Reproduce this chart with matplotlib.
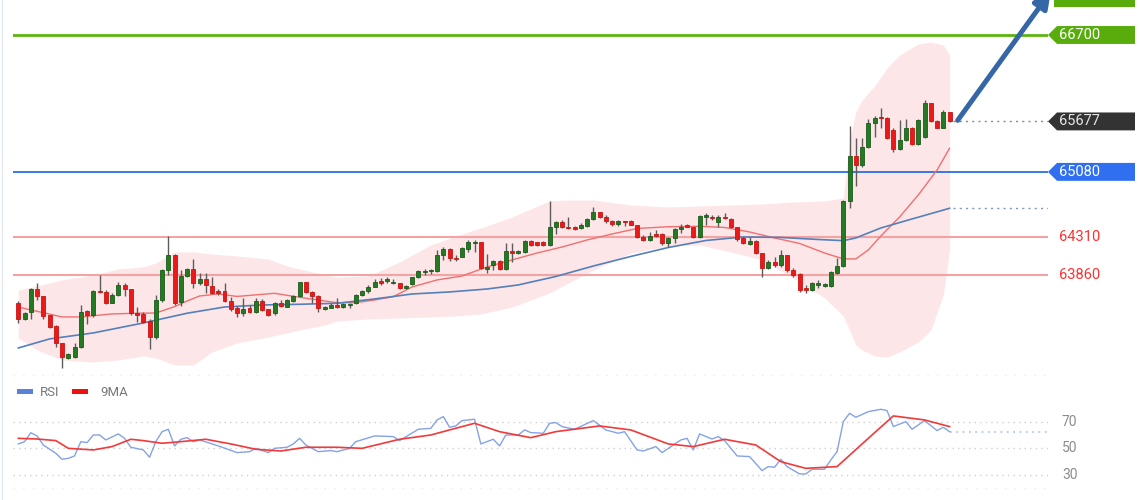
import matplotlib
matplotlib.use("Agg")
import matplotlib.pyplot as plt
import matplotlib.transforms as mtransforms
from matplotlib.patches import Polygon, Rectangle

plt.rcParams["font.family"] = ["Roboto", "DejaVu Sans"]

# --- candle data (price) ---
opens = [
    63532, 63335, 63426, 63691, 63611, 63387, 63256, 63052, 62881, 62893,
    63004, 63434, 63387, 63674, 63663, 63532, 63623, 63742, 63691, 63414,
    63399, 63319, 63122, 63564, 63919, 64097, 63544, 63852, 63931, 63762,
    63809, 63730, 63671, 63671, 63556, 63466, 63407, 63466, 63426, 63556,
    63454, 63407, 63532, 63485, 63556, 63611, 63774, 63662, 63611, 63454,
    63473, 63505, 63478, 63505, 63525, 63623, 63674, 63721, 63789, 63789,
    63762, 63762, 63703, 63753, 63833, 63896, 63905, 63911, 64097, 64164,
    64065, 64077, 64164, 64235, 64247, 63927, 63978, 64026, 63931, 64144,
    64117, 64136, 64266, 64247, 64254, 64215, 64431, 64491, 64431, 64424,
    64412, 64440, 64523, 64609, 64550, 64503, 64464, 64503, 64503, 64452,
    64313, 64274, 64341, 64341, 64235, 64301, 64401, 64452, 64424, 64306,
    64550, 64550, 64491, 64550, 64519, 64424, 64294, 64227, 64266, 64124,
    63939, 64017, 63978, 64097, 63919, 63868, 63710, 63682, 63742, 63734,
    63734, 63880, 63970, 64736, 65272, 65162, 65378, 65655, 65733, 65721,
    65576, 65351, 65457, 65603, 65407, 65496, 65892, 65682, 65603, 65792,
]
highs = [
    63556, 63426, 63703, 63762, 63611, 63387, 63268, 63060, 62937, 63052,
    63505, 63446, 63680, 63860, 63682, 63647, 63781, 63769, 63695, 63481,
    63426, 63335, 63623, 63927, 64321, 64105, 63919, 63943, 64046, 63880,
    63880, 63840, 63695, 63769, 63603, 63493, 63584, 63505, 63584, 63572,
    63454, 63544, 63564, 63572, 63623, 63781, 63781, 63671, 63623, 63493,
    63525, 63584, 63525, 63525, 63631, 63682, 63742, 63809, 63821, 63840,
    63809, 63769, 63742, 63840, 63919, 63927, 63927, 64156, 64195, 64176,
    64097, 64188, 64274, 64274, 64254, 64109, 64038, 64038, 64235, 64235,
    64156, 64274, 64274, 64254, 64262, 64739, 64499, 64511, 64543, 64440,
    64479, 64535, 64661, 64609, 64570, 64511, 64511, 64503, 64511, 64452,
    64333, 64372, 64392, 64353, 64313, 64412, 64463, 64463, 64431, 64570,
    64590, 64570, 64570, 64590, 64531, 64431, 64306, 64306, 64274, 64124,
    64038, 64077, 64156, 64097, 63939, 63880, 63742, 63774, 63801, 63762,
    63904, 64057, 64747, 65627, 65477, 65477, 65706, 65745, 65840, 65733,
    65596, 65694, 65706, 65615, 65706, 65931, 65892, 65694, 65812, 65792,
]
lows = [
    63288, 63327, 63335, 63564, 63335, 63229, 63012, 62756, 62866, 62874,
    62992, 63280, 63359, 63650, 63517, 63523, 63611, 63611, 63387, 63307,
    63295, 62981, 63099, 63544, 63860, 63505, 63493, 63836, 63703, 63742,
    63643, 63635, 63623, 63544, 63438, 63367, 63375, 63414, 63414, 63434,
    63375, 63387, 63478, 63478, 63544, 63603, 63643, 63529, 63426, 63446,
    63466, 63466, 63466, 63466, 63517, 63611, 63650, 63714, 63742, 63762,
    63754, 63691, 63691, 63742, 63825, 63860, 63870, 63899, 64038, 64029,
    64029, 64069, 64136, 64136, 63927, 63887, 63919, 63919, 63919, 64017,
    64109, 64124, 64203, 64203, 64203, 64203, 64345, 64412, 64400, 64392,
    64400, 64428, 64511, 64531, 64479, 64440, 64440, 64440, 64446, 64294,
    64266, 64266, 64313, 64215, 64195, 64235, 64353, 64424, 64294, 64294,
    64452, 64511, 64431, 64519, 64412, 64266, 64227, 64215, 64109, 63833,
    63931, 63958, 63958, 63899, 63840, 63663, 63643, 63671, 63710, 63722,
    63722, 63868, 63958, 64649, 64917, 65142, 65366, 65496, 65596, 65466,
    65319, 65339, 65446, 65398, 65398, 65485, 65674, 65596, 65596, 65667,
]
closes = [
    63335, 63414, 63691, 63611, 63375, 63248, 63052, 62893, 62925, 63004,
    63426, 63387, 63674, 63659, 63532, 63623, 63742, 63691, 63407, 63387,
    63307, 63122, 63564, 63919, 64097, 63532, 63848, 63931, 63762, 63809,
    63742, 63643, 63643, 63556, 63454, 63407, 63454, 63426, 63556, 63446,
    63387, 63532, 63493, 63564, 63611, 63774, 63662, 63615, 63466, 63485,
    63505, 63478, 63517, 63517, 63623, 63674, 63721, 63774, 63762, 63809,
    63781, 63703, 63733, 63833, 63911, 63911, 63915, 64097, 64164, 64057,
    64046, 64176, 64247, 64247, 63939, 63951, 64026, 63931, 64144, 64117,
    64144, 64266, 64215, 64215, 64215, 64431, 64491, 64431, 64412, 64400,
    64452, 64523, 64609, 64550, 64503, 64460, 64503, 64487, 64452, 64306,
    64274, 64321, 64321, 64235, 64301, 64401, 64431, 64431, 64306, 64562,
    64562, 64531, 64550, 64531, 64431, 64282, 64235, 64266, 64124, 63939,
    64017, 63978, 64097, 63919, 63860, 63682, 63682, 63762, 63762, 63750,
    63892, 63970, 64736, 65272, 65162, 65378, 65655, 65714, 65714, 65477,
    65351, 65457, 65596, 65407, 65694, 65892, 65682, 65603, 65792, 65677,
]

# --- overlays (candle index, price) ---
ma_fast_idx = [0, 2, 4, 7, 10, 15, 19, 22, 25, 27, 29, 32, 35, 41, 46, 51, 54, 57, 60, 63, 67, 71,
               75, 79, 83, 87, 91, 95, 99, 104, 109, 113, 117, 121, 125, 129, 132, 134, 136, 138,
               141, 144, 147, 149]
ma_fast = [63480, 63446, 63414, 63363, 63363, 63399, 63407, 63410, 63485, 63552, 63611, 63635,
           63606, 63643, 63584, 63532, 63532, 63564, 63603, 63718, 63801, 63848, 63955, 64038,
           64120, 64191, 64274, 64345, 64410, 64431, 64436, 64422, 64369, 64298, 64233, 64120,
           64050, 64050, 64156, 64321, 64546, 64807, 65102, 65359]

ma_slow_idx = [0, 5, 12, 20, 27, 33, 39, 45, 51, 57, 63, 69, 75, 80, 86, 92, 98, 104, 110, 116,
               122, 128, 132, 134, 138, 143, 149]
ma_slow = [62996, 63103, 63174, 63292, 63407, 63481, 63505, 63513, 63525, 63576, 63635, 63659,
           63694, 63742, 63842, 63966, 64079, 64185, 64268, 64310, 64304, 64280, 64266, 64298,
           64416, 64523, 64649]

band_idx = [0, 3, 7, 12, 16, 20, 22, 25, 28, 31, 35, 40, 43, 45, 49, 51, 56, 61, 66, 70, 74, 79,
            85, 88, 92, 98, 104, 109, 114, 119, 124, 129, 132, 133, 134, 135, 137, 139, 141, 144,
            146, 148, 149]
band_up = [63682, 63730, 63801, 63860, 63931, 63955, 64002, 64132, 64132, 64108, 64085, 64049,
           63966, 63931, 63860, 63836, 63848, 64014, 64215, 64321, 64416, 64546, 64736, 64747,
           64747, 64688, 64665, 64676, 64688, 64700, 64724, 64736, 64771, 65457, 65789, 65931,
           66096, 66309, 66463, 66593, 66617, 66581, 66463]
band_lo = [63114, 62972, 62854, 62830, 62854, 62901, 62878, 62795, 62795, 62949, 63055, 63126,
           63174, 63209, 63268, 63315, 63339, 63351, 63363, 63375, 63398, 63481, 63647, 63765,
           63919, 64120, 64203, 64215, 64132, 64038, 63824, 63588, 63375, 63209, 63032, 62972,
           62901, 62890, 62949, 63067, 63209, 63623, 64156]

# --- RSI panel ---
rsi_idx = [0, 1, 2, 3, 4, 6, 7, 8, 9, 10, 11, 12, 13, 14, 16, 17, 18, 20, 21, 22, 23, 24, 25, 26,
           27, 28, 29, 31, 32, 35, 37, 38, 40, 41, 43, 44, 45, 46, 48, 50, 51, 53, 54, 57, 60, 61,
           64, 66, 67, 68, 69, 70, 71, 73, 74, 76, 77, 78, 80, 81, 82, 84, 85, 86, 87, 89, 92, 94,
           96, 97, 99, 100, 102, 103, 106, 107, 108, 109, 111, 112, 113, 115, 117, 119, 120, 121,
           122, 123, 125, 126, 127, 129, 130, 131, 132, 133, 134, 136, 138, 139, 140, 142, 143,
           145, 147, 148, 149]
rsi_vals = [53.3, 55, 61.7, 59.3, 52.5, 46.3, 41.8, 42.5, 44.3, 55, 54.3, 60, 60, 56.3, 60.8, 57.5,
            50.8, 48.8, 43.3, 55, 62.5, 64.3, 51.8, 56.8, 58, 55, 56.3, 53.3, 51.8, 46.8, 47.5, 50,
            46.8, 50, 50.8, 53.3, 57.5, 52.5, 47.5, 48.3, 47.5, 50, 55, 59.3, 58.8, 55.8, 64.3, 65,
            71.3, 73.8, 65.8, 66.8, 70.8, 71.8, 53.3, 56.8, 51.8, 60, 60, 63.8, 61.8, 61.3, 68.8,
            69.3, 66.3, 64.3, 70.8, 63.8, 61.3, 62.5, 48.8, 48, 51.3, 46.8, 56.3, 57.5, 48.8, 60.8,
            57, 58.8, 55.8, 44.3, 43.8, 33.3, 36.3, 35.8, 41.8, 36.3, 30.8, 30.8, 34.3, 34.3, 41.3,
            47.5, 70, 76.3, 73.3, 77.5, 79.3, 78.3, 66.3, 70, 64.3, 70.8, 63.3, 65.8, 62.5]
rsi_ma_idx = [0, 3, 6, 8, 12, 15, 18, 20, 23, 26, 30, 34, 38, 42, 46, 51, 55, 61, 66, 69, 73, 77,
              82, 86, 93, 98, 104, 108, 113, 118, 122, 126, 131, 136, 140, 145, 149]
rsi_ma = [57.5, 57, 55.8, 50, 48.8, 51.3, 56.8, 55.8, 53.8, 55, 56.8, 53.3, 49.3, 48, 50.8, 50.8,
          50, 56.8, 60, 63.8, 68.8, 62.5, 58, 62.5, 66.8, 63.8, 53.3, 51.3, 56.8, 52.5, 40, 35,
          36.3, 57.5, 74.3, 71.3, 66.3]
rsi_levels = [70, 50, 30]

# price levels
level_green = 66700
level_blue = 65080
levels_red = [64310, 63860]
last_price = 65677

W, H = 1140, 500
fig = plt.figure(figsize=(W / 100, H / 100), dpi=100)
fig.patch.set_facecolor("white")

XL = (-0.85, 164.75)
ax = fig.add_axes([13 / W, 120 / H, 1035 / W, 380 / H])
ax.set_xlim(*XL)
ax.set_ylim(62617, 67114)
ax.set_axis_off()

# bollinger-like band
ax.fill_between(band_idx, band_lo, band_up, color="#fcdadd", alpha=0.65, lw=0, zorder=1)

# horizontal levels
ax.axhline(level_green, color="#5cb410", lw=2, zorder=2)
ax.axhline(level_blue, color="#1763e6", lw=1.2, zorder=2)
for lv in levels_red:
    ax.axhline(lv, color="#f3a3a3", lw=1.5, zorder=2)

# moving averages
ax.plot(ma_fast_idx, ma_fast, color="#f07070", lw=1, zorder=3)
ax.plot(ma_slow_idx, ma_slow, color="#5580bb", lw=1.2, zorder=3)
ax.hlines(ma_slow[-1], ma_slow_idx[-1] + 0.5, XL[1], colors="#7f95c4", lw=1,
          linestyles=(0, (1.5, 3)), zorder=3)

# candles
idx = list(range(len(opens)))
ax.vlines(idx, lows, highs, colors="#5c5c5c", lw=1, zorder=4)
bottoms = [min(o, c) for o, c in zip(opens, closes)]
heights = [max(abs(c - o), 14) for o, c in zip(opens, closes)]
cols = ["#237a23" if c >= o else "#ea1a1a" for o, c in zip(opens, closes)]
edges = ["#1b5c1b" if c >= o else "#c81414" for o, c in zip(opens, closes)]
ax.bar(idx, heights, bottom=bottoms, width=0.62, color=cols, edgecolor=edges, lw=0.6, zorder=5)

# last price dotted
ax.hlines(last_price, idx[-1] + 0.6, XL[1], colors="#8a8a8a", lw=1, linestyles=(0, (1.5, 3)),
          zorder=3)

# arrow
ax.annotate("", xy=(165.2, 67215), xytext=(150.3, 65690),
            arrowprops=dict(arrowstyle="-|>", color="#3566a6", lw=3.6, mutation_scale=24,
                            shrinkA=0, shrinkB=0),
            annotation_clip=False, zorder=6)

# right side labels
blend = mtransforms.blended_transform_factory(fig.transFigure, ax.transData)
hh = 106


def tag(price, face, text=None, tcolor="white"):
    pts = [(1048 / W, price), (1057 / W, price + hh), (1135 / W, price + hh),
           (1135 / W, price - hh), (1057 / W, price - hh)]
    ax.add_patch(Polygon(pts, closed=True, transform=blend, facecolor=face, edgecolor="none",
                         clip_on=False, zorder=7))
    if text:
        ax.text(1059 / W, price, text, transform=blend, color=tcolor, fontsize=10.5,
                va="center", ha="left", clip_on=False, zorder=8)


tag(level_green, "#58ad0c", f"{level_green}")
tag(last_price, "#333333", f"{last_price}", tcolor="#e6e6e6")
tag(level_blue, "#2f6ff0", f"{level_blue}")
for lv in levels_red:
    ax.text(1059 / W, lv, f"{lv}", transform=blend, color="#ff3030", fontsize=10.5,
            va="center", ha="left", clip_on=False)

# upper target tag, cut off by the top edge
top_tag = Rectangle((1054 / W, 1 - 7 / H), 81 / W, 8 / H, transform=fig.transFigure,
                    facecolor="#58ad0c", edgecolor="none", zorder=10)
fig.add_artist(top_tag)

# faint frame line on the left
fig.add_artist(plt.Line2D([2 / W, 2 / W], [0, 1], color="#e4eaef", lw=1))

# --- RSI axes ---
rx = fig.add_axes([13 / W, 5 / H, 1035 / W, 90 / H])
rx.set_xlim(*XL)
rx.set_ylim(15, 82.5)
rx.set_axis_off()
rblend = mtransforms.blended_transform_factory(fig.transFigure, rx.transData)
for lv in rsi_levels:
    rx.axhline(lv, color="#cfcfcf", lw=1, linestyle=(0, (1, 3)))
    rx.text(1062 / W, lv, str(lv), transform=rblend, color="#8c8c8c", fontsize=10,
            va="center", ha="left", clip_on=False)
rx.plot(rsi_idx, rsi_vals, color="#85a2e6", lw=1, zorder=3)
rx.plot(rsi_ma_idx, rsi_ma, color="#f23a3a", lw=1.2, zorder=4)
rx.hlines(rsi_vals[-1], rsi_idx[-1], XL[1], colors="#b5c6ee", lw=1.3, linestyles=(0, (1, 2.5)),
          zorder=2)

# faint dotted separators
for yy in (375, 488):
    fig.add_artist(plt.Line2D([13 / W, 1048 / W], [1 - yy / H, 1 - yy / H], color="#ececec",
                              lw=1, linestyle=(0, (1, 6))))

# legend
fig.add_artist(Rectangle((17 / W, 1 - 394 / H), 16 / W, 5 / H, transform=fig.transFigure,
                         facecolor="#5b80d8", edgecolor="none"))
fig.text(40 / W, 1 - 392 / H, "RSI", color="#777777", fontsize=9.5, va="center")
fig.add_artist(Rectangle((72 / W, 1 - 394 / H), 16 / W, 5 / H, transform=fig.transFigure,
                         facecolor="#ee1010", edgecolor="none"))
fig.text(100 / W, 1 - 392 / H, "9MA", color="#777777", fontsize=9.5, va="center")

fig.savefig("out.png", dpi=100)
